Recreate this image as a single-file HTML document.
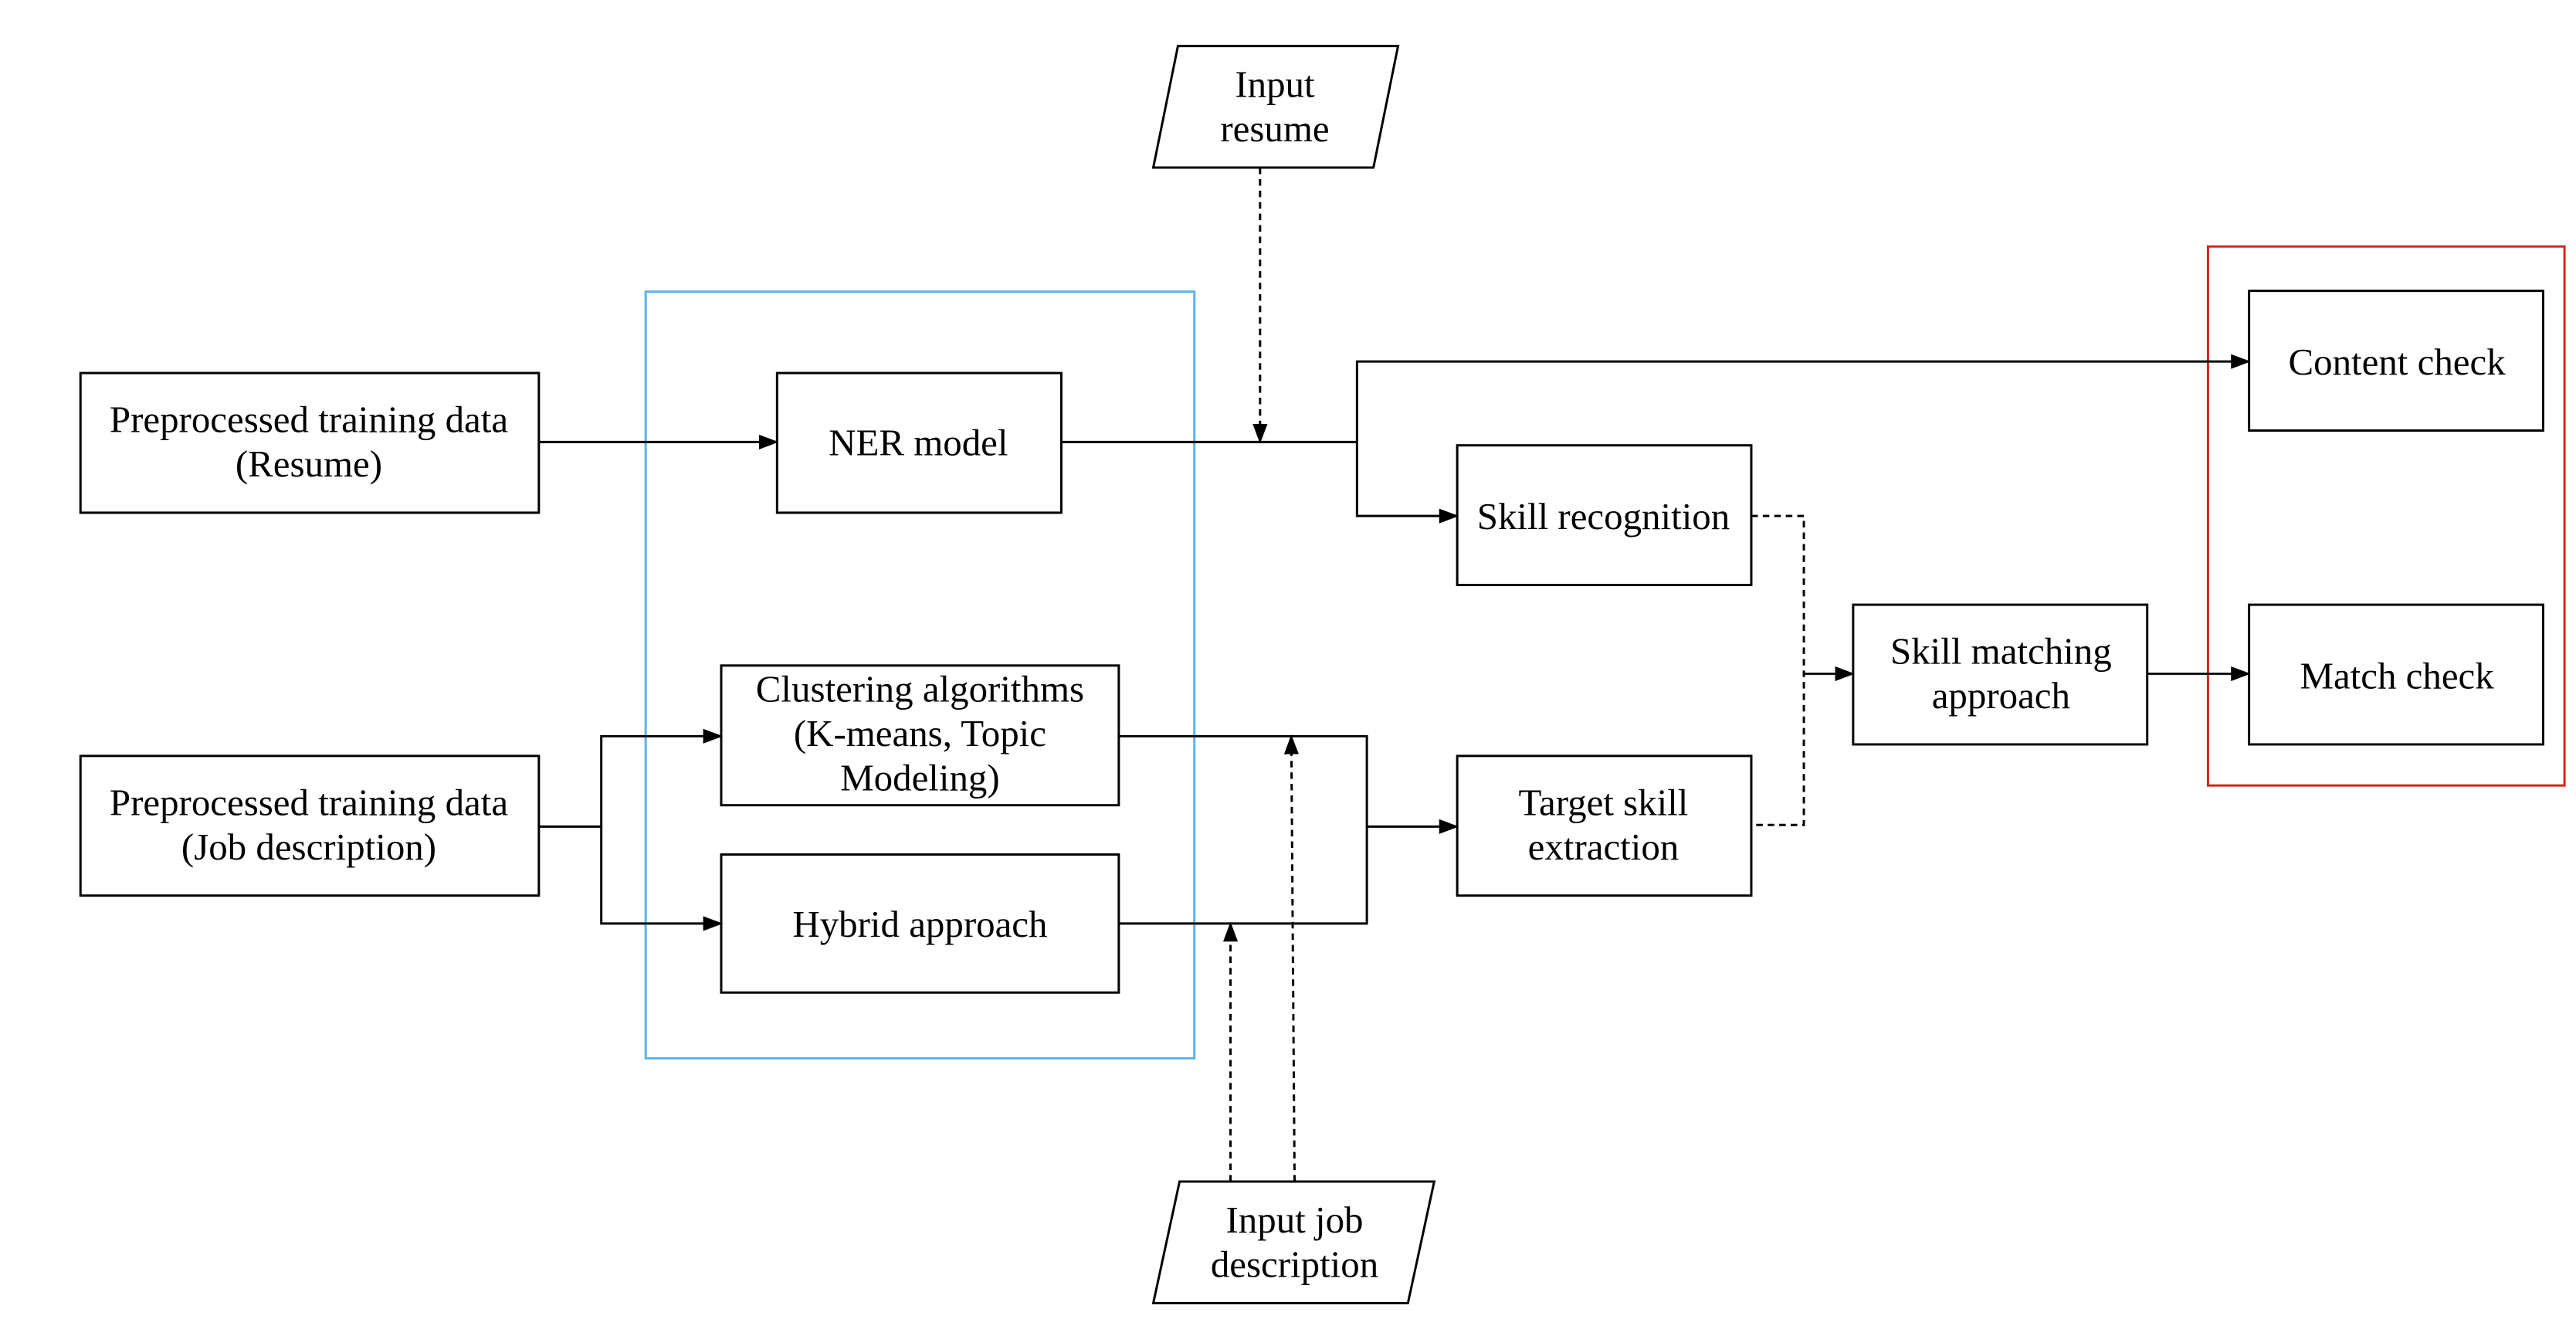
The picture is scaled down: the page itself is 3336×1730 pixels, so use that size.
<!DOCTYPE html>
<html><head><meta charset="utf-8"><style>
html,body{margin:0;padding:0;background:#fff;}
svg{display:block;}
text{font-family:"Liberation Serif",serif;font-size:23px;fill:#000;text-anchor:middle;}
</style></head><body>
<svg width="3336" height="1730" viewBox="0 0 1568 813" preserveAspectRatio="none" xmlns="http://www.w3.org/2000/svg">
<defs>
<marker id="a" markerWidth="12" markerHeight="9" refX="11" refY="4.5" orient="auto" markerUnits="userSpaceOnUse">
<path d="M0,0 L12,4.5 L0,9 z" fill="#000"/></marker>
</defs>
<g fill="none" stroke="#000" stroke-width="1.4">
<rect x="393" y="177.5" width="334" height="466.5" stroke="#5ab4e6"/>
<rect x="1344" y="150" width="217" height="328" stroke="#d0261d"/>
<rect x="49" y="227" width="279" height="85"/>
<rect x="473" y="227" width="173" height="85"/>
<rect x="1369" y="177" width="179" height="85"/>
<rect x="887" y="271" width="179" height="85"/>
<rect x="1128" y="368" width="179" height="85"/>
<rect x="1369" y="368" width="179" height="85"/>
<rect x="887" y="460" width="179" height="85"/>
<rect x="49" y="460" width="279" height="85"/>
<rect x="439" y="405" width="242" height="85"/>
<rect x="439" y="520" width="242" height="84"/>
<polygon points="717,28 851,28 836,102 702,102"/>
<polygon points="718,719 873,719 857,793 702,793"/>
<line x1="328" y1="269" x2="473" y2="269" marker-end="url(#a)"/>
<polyline points="646,269 826,269 826,220 1369,220" marker-end="url(#a)"/>
<polyline points="826,269 826,314 887,314" marker-end="url(#a)"/>
<line x1="1307" y1="410" x2="1369" y2="410" marker-end="url(#a)"/>
<line x1="1098" y1="410" x2="1128" y2="410" marker-end="url(#a)"/>
<polyline points="328,503 366,503"/>
<polyline points="366,503 366,448 439,448" marker-end="url(#a)"/>
<polyline points="366,503 366,562 439,562" marker-end="url(#a)"/>
<polyline points="681,448 832,448 832,562 681,562"/>
<line x1="832" y1="503" x2="887" y2="503" marker-end="url(#a)"/>
<g stroke-dasharray="4,3">
<line x1="767" y1="102" x2="767" y2="269" marker-end="url(#a)"/>
<polyline points="1066,314 1098,314 1098,502 1066,502"/>
<line x1="749" y1="719" x2="749" y2="562" marker-end="url(#a)"/>
<line x1="788" y1="719" x2="786" y2="448" marker-end="url(#a)"/>
</g>
</g>
<text x="188" y="263">Preprocessed training data</text>
<text x="188" y="290">(Resume)</text>
<text x="559" y="277">NER model</text>
<text x="776" y="59">Input</text>
<text x="776" y="86">resume</text>
<text x="1459" y="228">Content check</text>
<text x="976" y="322">Skill recognition</text>
<text x="1218" y="404">Skill matching</text>
<text x="1218" y="431">approach</text>
<text x="1459" y="419">Match check</text>
<text x="976" y="496">Target skill</text>
<text x="976" y="523">extraction</text>
<text x="188" y="496">Preprocessed training data</text>
<text x="188" y="523">(Job description)</text>
<text x="560" y="427">Clustering algorithms</text>
<text x="560" y="454">(K-means, Topic</text>
<text x="560" y="481">Modeling)</text>
<text x="560" y="570">Hybrid approach</text>
<text x="788" y="750">Input job</text>
<text x="788" y="777">description</text>
</svg>
</body></html>
